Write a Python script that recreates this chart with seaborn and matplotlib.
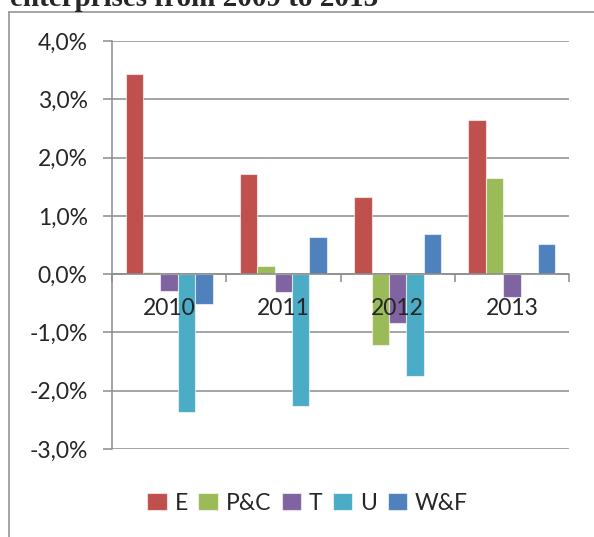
import pandas as pd
import numpy as np
import matplotlib.pyplot as plt
import seaborn as sns
from matplotlib.ticker import FuncFormatter, FixedLocator
from matplotlib.lines import Line2D

# Data (percent change per year)
years = ['2010', '2011', '2012', '2013']
sectors = ['E', 'P&C', 'T', 'U', 'W&F']
e_vals = [3.44, 1.72, 1.32, 2.64]
pc_vals = [0.03, 0.14, -1.22, 1.65]
t_vals = [-0.29, -0.31, -0.83, -0.39]
u_vals = [-2.37, -2.27, -1.75, 0.0]
wf_vals = [-0.52, 0.63, 0.69, 0.51]
colors = ['#C0504D', '#9BBB59', '#8064A2', '#4BACC6', '#4F81BD']
y_ticks = [-3, -2, -1, 0, 1, 2, 3, 4]
title = 'enterprises from 2009 to 2013'

series = dict(zip(sectors, [e_vals, pc_vals, t_vals, u_vals, wf_vals]))
df = pd.DataFrame([
    {'year': y, 'sector': s, 'value': v}
    for s, vals in series.items() for y, v in zip(years, vals)
])

sns.set_style('white')
plt.rcParams['font.family'] = ['Lato', 'DejaVu Sans']
gray = '#8C8C8C'
fs = 16.5

fig = plt.figure(figsize=(5.94, 5.37), dpi=100)
ax = fig.add_axes([112 / 594, 88 / 537, 457 / 594, 408 / 537])

sns.barplot(data=df, x='year', y='value', hue='sector', hue_order=sectors,
            order=years, palette=colors, saturation=1, width=0.76,
            edgecolor=(1, 1, 1, 0.6), linewidth=0.8, ax=ax)

ax.set_xlim(-0.5, 3.5)
ax.set_ylim(-3, 4)
ax.set_xlabel('')
ax.set_ylabel('')

# y axis
ax.yaxis.set_major_locator(FixedLocator(y_ticks))
ax.yaxis.set_major_formatter(FuncFormatter(lambda v, p: f'{v:.1f}%'.replace('.', ',')))
ax.yaxis.grid(True, color=gray, lw=1.1)
ax.set_axisbelow(True)
ax.tick_params(axis='y', length=6.5, width=1.1, color=gray, pad=11,
               labelsize=fs, left=True)

# x axis sits on the zero line, ticks at category borders
for side in ['top', 'right']:
    ax.spines[side].set_visible(False)
ax.spines['left'].set_color(gray)
ax.spines['left'].set_linewidth(1.1)
ax.spines['bottom'].set_position(('data', 0))
ax.spines['bottom'].set_color(gray)
ax.spines['bottom'].set_linewidth(1.1)
ax.xaxis.set_minor_locator(FixedLocator([-0.5, 0.5, 1.5, 2.5, 3.5]))
ax.tick_params(axis='x', which='major', length=0, pad=17, labelsize=fs)
ax.tick_params(axis='x', which='minor', length=6, width=1.1, color=gray,
               bottom=True, direction='out')
# year labels are drawn over the bars, the grid stays behind
ax.xaxis.set_zorder(3)

# legend below the plot
handles, labels = ax.get_legend_handles_labels()
ax.get_legend().remove()
fig.legend(handles, labels, loc='center', bbox_to_anchor=(0.518, 0.0633),
           ncol=5, frameon=False, fontsize=fs, handlelength=0.85,
           handleheight=0.7, handletextpad=0.35, columnspacing=0.45)

# chart area border (cut off by the image edges)
fig.add_artist(Line2D([9 / 594, 1.0], [1 - 12.3 / 537] * 2,
                      transform=fig.transFigure, color=gray, lw=1.1))
fig.add_artist(Line2D([9 / 594] * 2, [0.0, 1 - 12.3 / 537],
                      transform=fig.transFigure, color=gray, lw=1.1))

# document caption cut off at the top
fig.text(9.5 / 594, 1 - 6 / 537, title, family=['Liberation Serif', 'DejaVu Serif'],
         weight='bold', fontsize=21, ha='left', va='baseline')

fig.savefig('out.png', dpi=100)
